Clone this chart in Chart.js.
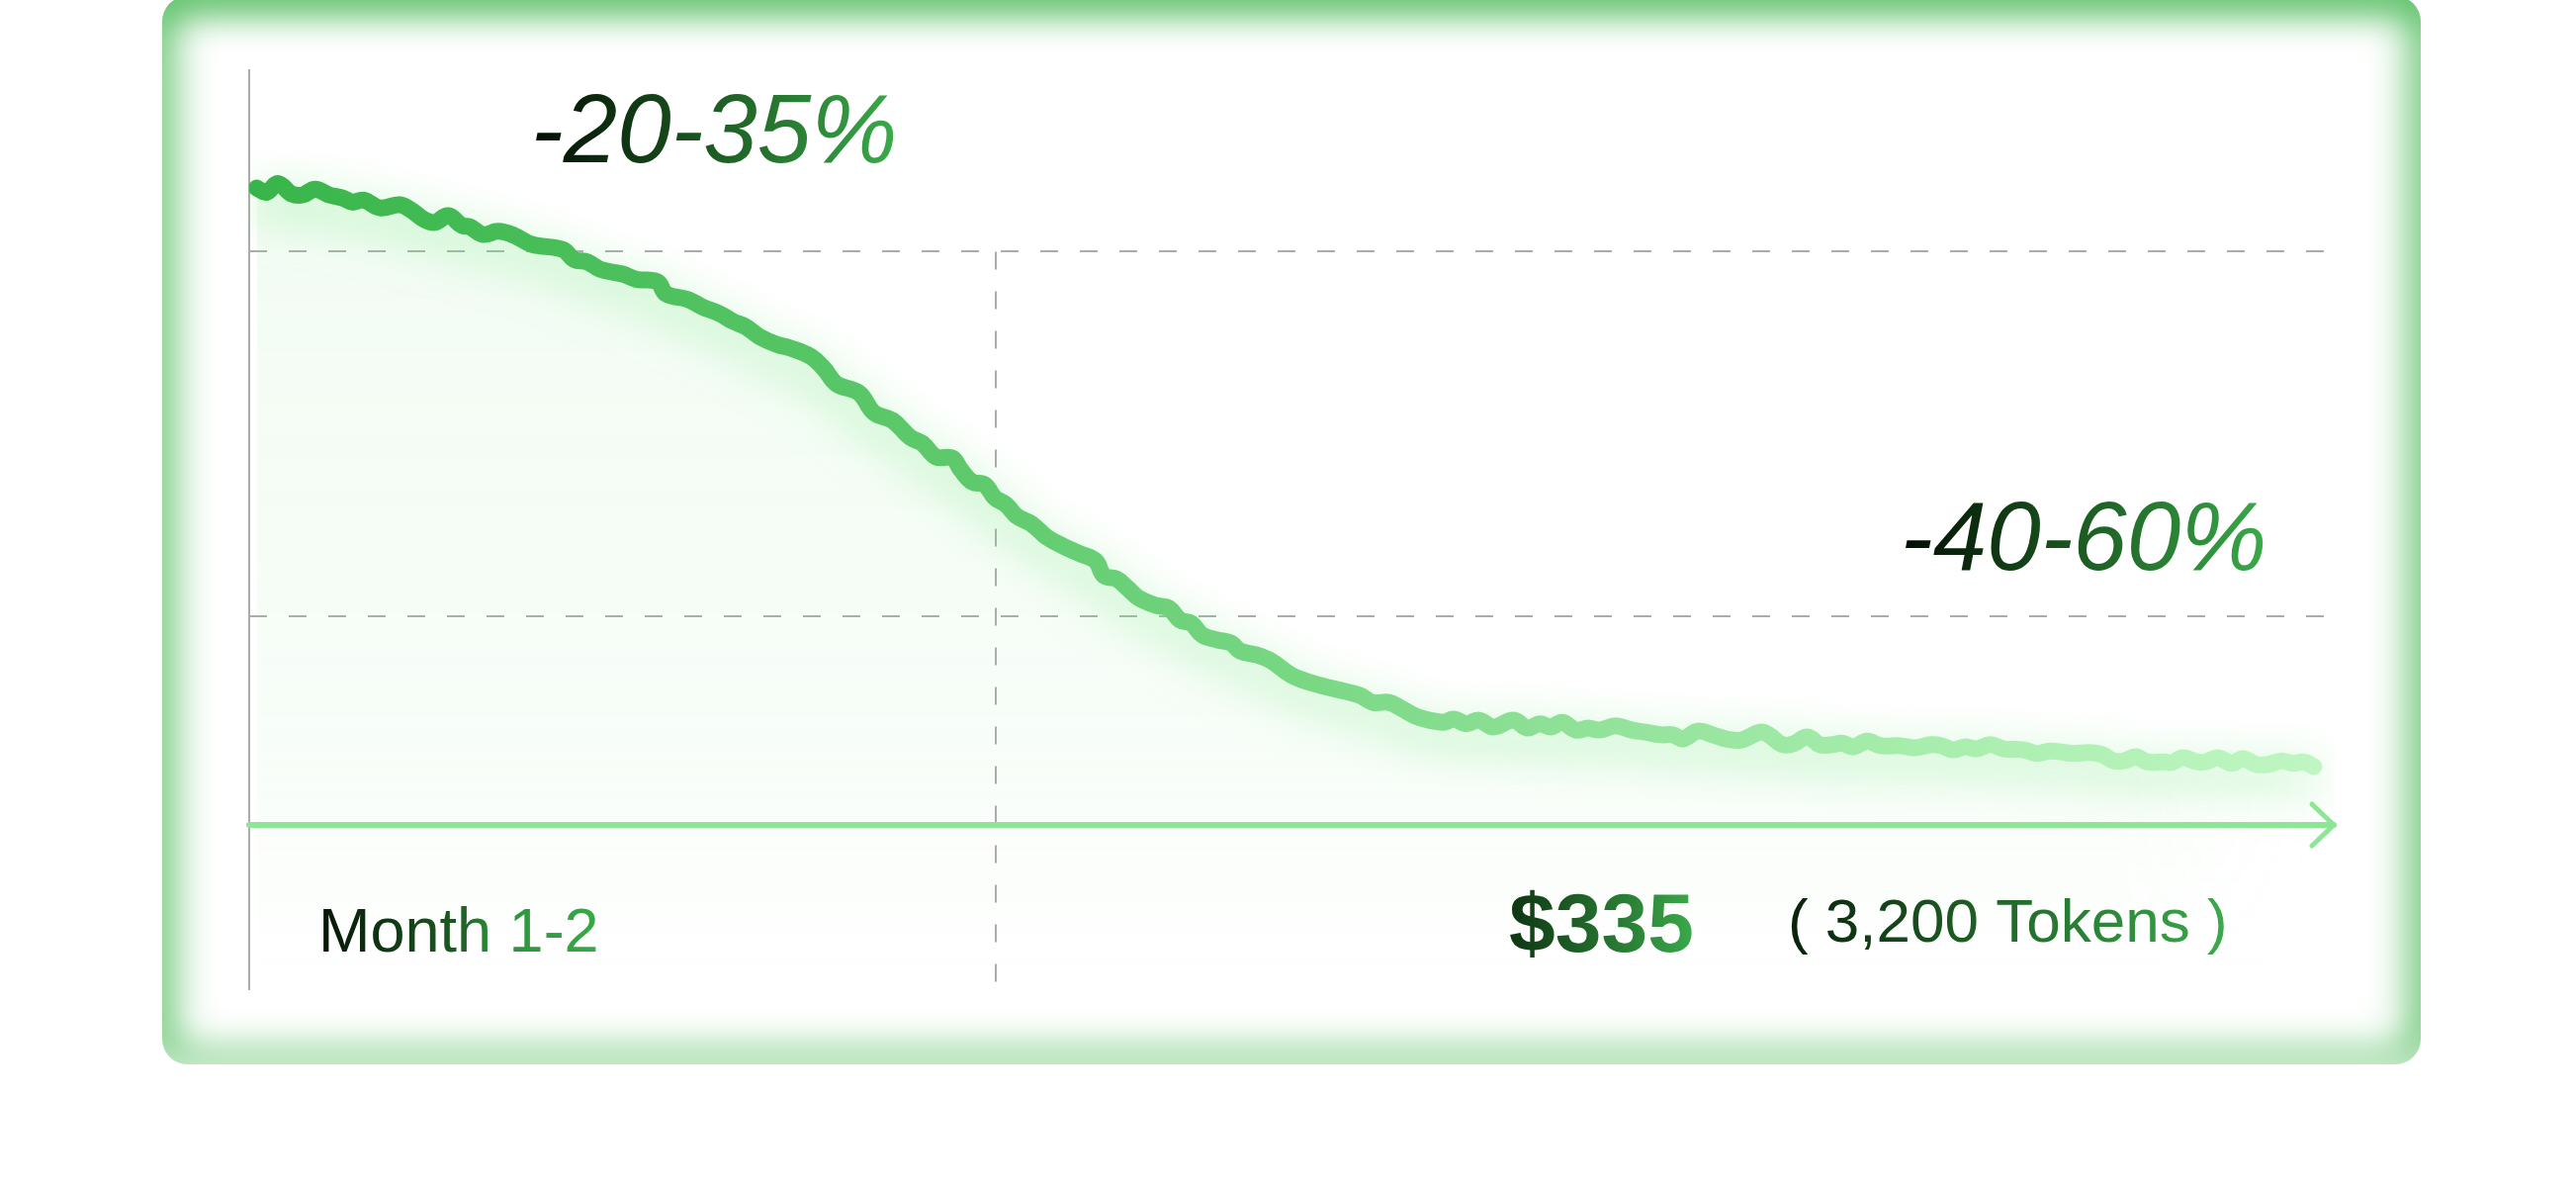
<!DOCTYPE html>
<html>
<head>
<meta charset="utf-8">
<script src="https://cdn.jsdelivr.net/npm/chart.js@4.4.1/dist/chart.umd.min.js"></script>
<style>
  html, body { margin:0; padding:0; background:#ffffff; width:2605px; height:1200px; overflow:hidden; }
  #card {
    position:absolute; left:164px; top:-4px; width:2284px; height:1080px;
    border-radius:26px; background:#ffffff;
    box-shadow: inset 0 -22px 26px -14px rgba(255,255,255,0.55),
                inset 0 34px 34px -20px rgba(100,195,110,0.85),
                inset 0 0 42px 12px rgba(110,200,120,1);
  }
  #c { position:absolute; left:0; top:0; }
</style>
</head>
<body>
<div id="card"></div>
<canvas id="c" width="2605" height="1200"></canvas>
<script>
// ---- data (days since start, relative cost index) ----
const days = [
  0.6,1.4,2.3,3.4,4.3,5.3,6.4,7.5,8.3,9.2,
  10.5,12.1,13.0,14.1,14.9,16.0,17.1,17.7,18.8,20.0,
  21.3,22.7,25.2,26.1,27.2,28.2,30.0,31.1,32.8,33.5,
  35.3,36.4,37.8,38.9,39.9,41.0,42.4,43.5,45.1,46.2,
  47.2,49.0,50.2,51.7,53.1,54.1,55.2,
  56.5,57.2,58.1,59.1,59.9,60.8,61.7,62.9,64.1,65.4,
  66.8,68.0,68.7,69.7,70.6,71.5,72.9,73.9,74.8,75.7,
  76.6,77.8,78.9,79.6,81.0,82.1,83.7,85.3,87.4,89.2,
  90.3,91.6,92.7,93.9,95.9,96.8,97.8,98.8,100.0,101.6,
  102.7,103.7,104.6,105.5,106.6,107.6,108.5,109.8,
  111.1,112.2,113.4,114.4,115.2,116.4,117.6,118.7,119.9,121.4,
  122.1,123.2,124.1,125.2,126.2,127.2,128.0,128.9,130.0,131.1,
  132.7,133.8,135.2,136.0,136.9,137.9,138.8,139.9,141.0,142.6,
  143.7,144.7,146.6,147.8,148.9,149.8,150.7,151.6,152.5,153.9,
  154.5,155.4,156.5,157.2,158.2,159.3,160.2,161.3,162.2,163.3,
  164.2,165.1,165.9
];
const costIndex = [
  122.2,121.4,123.1,121.1,120.9,122.0,120.9,120.3,119.5,119.9,
  118.4,119.0,118.0,116.1,115.6,116.9,115.0,114.8,113.3,113.9,
  113.1,111.4,110.4,108.5,108.0,106.6,105.7,104.7,104.2,101.9,
  100.8,99.4,98.1,96.6,95.6,93.7,92.2,91.5,89.9,87.5,
  84.6,82.9,79.1,77.6,74.4,73.2,70.6,
  70.4,68.1,65.8,65.3,62.8,61.5,59.2,57.7,55.2,53.5,
  52.0,50.7,47.8,47.2,45.4,43.5,42.1,41.6,39.3,38.7,
  36.4,35.5,34.9,33.4,32.6,31.5,28.8,27.3,26.0,24.9,
  23.5,23.5,22.2,20.7,19.7,20.3,19.4,20.1,18.8,20.1,
  18.6,19.4,18.8,19.7,18.2,18.6,18.2,19.0,
  18.2,17.8,17.3,17.3,16.5,18.0,17.3,16.5,16.3,17.8,
  17.3,15.4,15.6,16.9,15.4,15.4,15.7,15.0,16.1,15.2,
  15.2,14.8,15.4,15.2,14.4,15.0,14.6,15.4,14.6,14.4,
  13.7,14.2,13.7,13.9,13.5,12.3,12.3,13.1,12.1,12.1,
  12.0,12.9,12.1,12.1,12.9,11.8,12.7,11.6,11.6,12.3,
  11.8,12.1,11.2
];
const gridLevels = [40, 110];        // dashed reference levels
const phaseBoundary = [60];          // end of "Month 1-2" (day 60)
const dayRange = [0, 167.5];
const indexRange = [-31.7, 145];
const labelUpper = '-20-35%';
const labelLower = '-40-60%';
const labelPhase = 'Month 1-2';
const labelPrice = '$335';
const labelTokens = '( 3,200 Tokens )';

const FONT = "'Liberation Sans', Arial, Helvetica, sans-serif";

function gradText(ctx, text, x, yb, font, stops) {
  ctx.font = font;
  const w = ctx.measureText(text).width;
  const g = ctx.createLinearGradient(x, 0, x + w, 0);
  stops.forEach(s => g.addColorStop(s[0], s[1]));
  ctx.fillStyle = g;
  ctx.textBaseline = 'alphabetic';
  ctx.textAlign = 'left';
  ctx.fillText(text, x, yb);
}

// soft area pattern (fades downward and towards the right end)
let areaPattern = null;
function getAreaPattern(chart) {
  if (areaPattern) return areaPattern;
  const a = chart.chartArea;
  const xs = chart.scales.x;
  const oc = document.createElement('canvas');
  oc.width = chart.width; oc.height = chart.height;
  const o = oc.getContext('2d');
  const v = o.createLinearGradient(0, a.top + 100, 0, a.bottom);
  v.addColorStop(0, 'rgba(130,225,140,0.10)');
  v.addColorStop(0.7, 'rgba(130,225,140,0.06)');
  v.addColorStop(1, 'rgba(130,225,140,0.0)');
  o.fillStyle = v;
  o.fillRect(0, 0, oc.width, oc.height);
  o.globalCompositeOperation = 'destination-in';
  const endX = xs.getPixelForValue(days[days.length - 1]);
  const h = o.createLinearGradient(endX - 200, 0, endX, 0);
  h.addColorStop(0, 'rgba(0,0,0,1)');
  h.addColorStop(1, 'rgba(0,0,0,0)');
  o.fillStyle = h;
  o.fillRect(0, 0, oc.width, oc.height);
  areaPattern = chart.ctx.createPattern(oc, 'no-repeat');
  return areaPattern;
}

const glow = {
  id: 'glow',
  beforeDatasetDraw(chart) {
    const ctx = chart.ctx;
    ctx.save();
    ctx.shadowColor = 'rgba(120,232,130,0.6)';
    ctx.shadowBlur = 48;
    ctx.shadowOffsetY = 14;
  },
  afterDatasetDraw(chart) { chart.ctx.restore(); }
};

const guides = {
  id: 'guides',
  beforeDatasetsDraw(chart) {
    const { ctx, chartArea: a, scales: { x, y } } = chart;
    ctx.save();
    ctx.strokeStyle = '#ababab';
    ctx.lineWidth = 2;
    ctx.beginPath();
    ctx.moveTo(a.left, a.top);
    ctx.lineTo(a.left, a.bottom);
    ctx.stroke();
    ctx.setLineDash([18, 22]);
    gridLevels.forEach(v => {
      const py = Math.round(y.getPixelForValue(v));
      ctx.beginPath();
      ctx.moveTo(a.left, py);
      ctx.lineTo(a.right, py);
      ctx.stroke();
    });
    const topY = y.getPixelForValue(Math.max(...gridLevels));
    phaseBoundary.forEach(v => {
      const px = Math.round(x.getPixelForValue(v));
      ctx.beginPath();
      ctx.moveTo(px, topY);
      ctx.lineTo(px, a.bottom);
      ctx.stroke();
    });
    ctx.restore();
  },
  afterDatasetsDraw(chart) {
    const { ctx, chartArea: a, scales: { x, y } } = chart;
    ctx.save();
    // x axis with arrow
    const y0 = y.getPixelForValue(0);
    ctx.strokeStyle = '#8de695';
    ctx.lineWidth = 6;
    ctx.lineCap = 'round';
    ctx.lineJoin = 'round';
    ctx.beginPath();
    ctx.moveTo(a.left, y0);
    ctx.lineTo(a.right, y0);
    ctx.stroke();
    ctx.lineWidth = 5;
    ctx.beginPath();
    ctx.moveTo(a.right - 22, y0 - 21);
    ctx.lineTo(a.right, y0);
    ctx.lineTo(a.right - 22, y0 + 21);
    ctx.stroke();

    const pct = [[0, '#020c02'], [0.5, '#1c5c22'], [1, '#3aab4a']];
    gradText(ctx, labelUpper, 537, 164, 'italic 400 98px ' + FONT, pct);
    gradText(ctx, labelLower, 1922, 576, 'italic 400 98px ' + FONT, pct);
    gradText(ctx, labelPhase, 322, 962, '400 63px ' + FONT,
      [[0, '#061406'], [0.5, '#1d5b23'], [0.62, '#2a9039'], [1, '#37ab47']]);
    gradText(ctx, labelPrice, 1526, 962, '700 84px ' + FONT,
      [[0, '#0e3412'], [1, '#3aa94a']]);
    gradText(ctx, labelTokens, 1808, 952, '400 62px ' + FONT,
      [[0, '#0b200b'], [0.45, '#1f6327'], [1, '#3bab4b']]);
    ctx.restore();
  }
};

const chart = new Chart(document.getElementById('c').getContext('2d'), {
  type: 'line',
  data: {
    datasets: [{
      data: days.map((d, i) => ({ x: d, y: costIndex[i] })),
      borderWidth: 17,
      tension: 0.4,
      pointRadius: 0,
      borderCapStyle: 'round',
      borderJoinStyle: 'round',
      fill: 'start',
      borderColor: (c) => {
        const a = c.chart.chartArea;
        if (!a) return '#5cc96a';
        const g = c.chart.ctx.createLinearGradient(a.left, 0, a.right, 0);
        g.addColorStop(0, '#38b54a');
        g.addColorStop(0.35, '#5fca6d');
        g.addColorStop(0.5, '#78d783');
        g.addColorStop(0.66, '#94e39c');
        g.addColorStop(0.83, '#abefb0');
        g.addColorStop(1, '#c0f6c3');
        return g;
      },
      backgroundColor: (c) => {
        const a = c.chart.chartArea;
        if (!a) return 'rgba(130,225,140,0.06)';
        return getAreaPattern(c.chart);
      }
    }]
  },
  options: {
    responsive: false,
    animation: false,
    devicePixelRatio: 1,
    events: [],
    layout: { padding: { left: 252, right: 245, top: 70, bottom: 199 } },
    plugins: { legend: { display: false }, tooltip: { enabled: false } },
    scales: {
      x: { type: 'linear', min: dayRange[0], max: dayRange[1], display: false },
      y: { type: 'linear', min: indexRange[0], max: indexRange[1], display: false }
    }
  },
  plugins: [glow, guides]
});
</script>
</body>
</html>
